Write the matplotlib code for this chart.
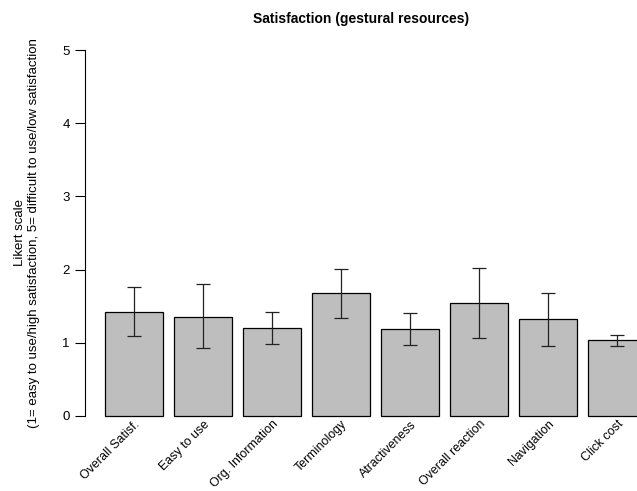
import matplotlib
matplotlib.use("Agg")
import matplotlib.pyplot as plt
import numpy as np

plt.rcParams['font.family'] = ['Liberation Sans', 'DejaVu Sans']

categories = ["Overall Satisf.", "Easy to use", "Org. Information", "Terminology",
              "Atractiveness", "Overall reaction", "Navigation", "Click cost"]
means = [1.42, 1.35, 1.20, 1.68, 1.19, 1.54, 1.32, 1.04]
err_low = [1.09, 0.93, 0.98, 1.34, 0.97, 1.07, 0.95, 0.96]
err_high = [1.76, 1.80, 1.42, 2.01, 1.41, 2.02, 1.68, 1.11]
yticks = [0, 1, 2, 3, 4, 5]

fig = plt.figure(figsize=(6.37, 4.91), dpi=100)
ax = fig.add_axes([85 / 637, 60.4 / 491, 552 / 637, 395.2 / 491])

# barplot-style positions: width 1, space 0.2
x = 0.7 + 1.2 * np.arange(len(categories))
ax.bar(x, means, width=1.0, color="#BEBEBE", edgecolor="black", linewidth=0.9)

lo = np.array(means) - np.array(err_low)
hi = np.array(err_high) - np.array(means)
ax.errorbar(x, means, yerr=[lo, hi], fmt="none", ecolor="#222222",
            elinewidth=0.9, capsize=5, capthick=0.9)

ax.set_xlim(-0.148, 9.452)
ax.set_ylim(-0.2, 5.2)
ax.set_yticks(yticks)
ax.set_yticklabels([str(t) for t in yticks], fontsize=9.5)
ax.tick_params(axis="y", length=7, width=0.8, pad=4)
ax.spines["left"].set_bounds(0, 5)
for s in ["top", "right", "bottom"]:
    ax.spines[s].set_visible(False)

# rotated category labels hanging below the bars
ax.set_xticks([])
for xi, lab in zip(x, categories):
    ax.text(xi + 0.08, -0.09, lab, rotation=45, ha="right", va="center",
            rotation_mode="anchor", fontsize=8.9, clip_on=False)

ax.set_ylabel("Likert scale\n(1= easy to use/high satisfaction, 5= difficult to use/low satisfaction",
              fontsize=9.5, labelpad=16, linespacing=1.2)
fig.text(361 / 637, 1 - 19 / 491, "Satisfaction (gestural resources)", ha="center",
         va="center", fontsize=10, fontweight="bold")

fig.savefig("out.png", dpi=100)
